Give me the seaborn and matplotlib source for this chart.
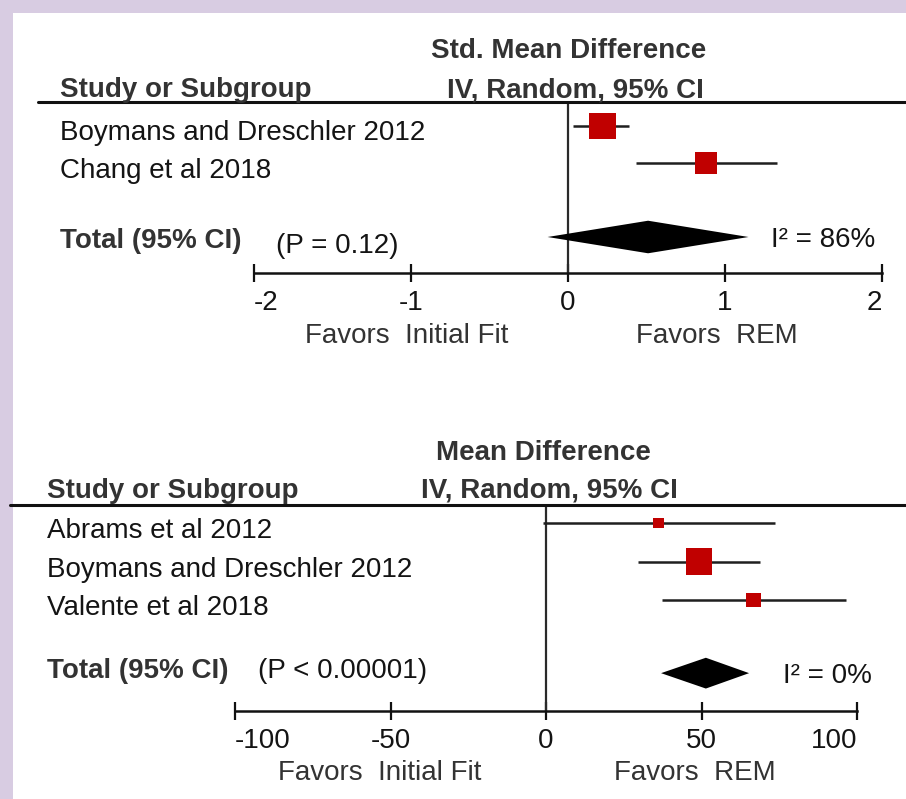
import numpy as np
import pandas as pd
import matplotlib
matplotlib.use("Agg")
import matplotlib.pyplot as plt
from matplotlib.lines import Line2D
from matplotlib.patches import Rectangle
import seaborn as sns

# ---------------- data ----------------
top_studies = ["Boymans and Dreschler 2012", "Chang et al 2018"]
top_est = [0.22, 0.88]
top_lo = [0.03, 0.43]
top_hi = [0.39, 1.33]
top_weight = [60.0, 40.0]
top_total = [0.51, -0.13, 1.15]          # estimate, lower, upper
top_p = "(P = 0.12)"
top_i2 = "I² = 86%"
top_ticks = [-2, -1, 0, 1, 2]
top_ticklabels = ["-2", "-1", "0", "1", "2"]
top_title1 = "Std. Mean Difference"

bot_studies = ["Abrams et al 2012", "Boymans and Dreschler 2012", "Valente et al 2018"]
bot_est = [36.3, 49.2, 66.6]
bot_lo = [-1.0, 29.6, 37.3]
bot_hi = [73.6, 68.8, 96.5]
bot_weight = [11.8, 66.2, 22.0]
bot_total = [51.4, 37.0, 65.3]
bot_p = "(P < 0.00001)"
bot_i2 = "I² = 0%"
bot_ticks = [-100, -50, 0, 50, 100]
bot_ticklabels = ["-100", "-50", "0", "50", "100"]
bot_title1 = "Mean Difference"

title2 = "IV, Random, 95% CI"
col_head = "Study or Subgroup"
total_lbl = "Total (95% CI)"
fav_left = "Favors  Initial Fit"
fav_right = "Favors  REM"

# ---------------- style ----------------
sns.set_style("white")
plt.rcParams["font.family"] = ["Liberation Sans", "DejaVu Sans"]

W, H = 906, 799
fig = plt.figure(figsize=(W / 100, H / 100), dpi=100)
fig.patch.set_facecolor("#d8cce2")
fig.add_artist(Rectangle((13 / W, 0), 1 - 13 / W, 1 - 13 / H,
                         transform=fig.transFigure, facecolor="white",
                         edgecolor="none", zorder=0))

FS = 20
TXT = "#141414"
HEAD = "#333333"
RED = "#c00000"


def fx(x):
    return x / W


def fy(y):
    return 1 - y / H


def ftext(x, y, s, **kw):
    kw.setdefault("fontsize", FS)
    kw.setdefault("color", TXT)
    kw.setdefault("va", "baseline")
    fig.text(fx(x), fy(y), s, **kw)


def panel(ax_px, row0, rowstep, studies, est, lo, hi, weight, total,
          total_y, dh, sq_k, xlim, ticks, ticklabels, pad):
    left, right, top, bottom = ax_px
    ax = fig.add_axes([fx(left), fy(bottom), (right - left) / W, (bottom - top) / H])
    ax.set_facecolor("none")
    ypos = np.arange(len(studies), dtype=float)
    df = pd.DataFrame({"study": studies, "est": est, "lo": lo, "hi": hi,
                       "w": weight, "y": ypos})
    ax.set_xlim(*xlim)
    ax.set_ylim((bottom - row0) / rowstep, (top - row0) / rowstep)
    # zero line
    ax.axvline(0, color="#2a2a2a", lw=1.6, zorder=1)
    # CI lines
    ax.hlines(df["y"], df["lo"], df["hi"], color="#1f1f1f", lw=1.8, zorder=2,
              clip_on=False)
    # squares
    sns.scatterplot(data=df, x="est", y="y", s=df["w"].to_numpy() * sq_k,
                    marker="s", color=RED, linewidth=0, ax=ax, zorder=3,
                    clip_on=False, legend=False)
    # diamond
    e, l, h = total
    ax.fill([l, e, h, e], [total_y, total_y - dh, total_y, total_y + dh],
            color="black", lw=0, zorder=3, clip_on=False)
    # axis
    for sp in ["top", "left", "right"]:
        ax.spines[sp].set_visible(False)
    ax.spines["bottom"].set_linewidth(1.8)
    ax.spines["bottom"].set_color("#111111")
    ax.set_yticks([])
    ax.set_xticks(ticks)
    ax.set_xticklabels(ticklabels, fontsize=FS, color=TXT)
    ax.tick_params(axis="x", bottom=True, direction="inout", length=13,
                   width=1.6, color="#111111", pad=pad)
    labs = ax.get_xticklabels()
    labs[0].set_ha("left")
    labs[-1].set_ha("right")
    ax.set_xlabel("")
    ax.set_ylabel("")
    return ax


# ---------------- top panel ----------------
panel((254, 882, 102, 273), 126, 37, top_studies, top_est, top_lo, top_hi,
      top_weight, top_total, 3.0, 0.44, 6.27, (-2, 2), top_ticks, top_ticklabels,
      5.8)

fig.add_artist(Line2D([fx(38), 1], [fy(102), fy(102)], lw=2.2, color="#111111"))
ftext(569, 58, top_title1, ha="center", fontweight="bold", color=HEAD)
ftext(575, 97, title2, ha="center", fontweight="bold", color=HEAD)
ftext(60, 97, col_head, ha="left", fontweight="bold", color=HEAD)
for s, yb in zip(top_studies, [140, 178]):
    ftext(60, yb, s, ha="left")
ftext(60, 248, total_lbl, ha="left", fontweight="bold", color=HEAD)
ftext(276, 253, top_p, ha="left")
ftext(771, 247, top_i2, ha="left")
ftext(407, 343, fav_left, ha="center", color=HEAD)
ftext(717, 343, fav_right, ha="center", color=HEAD)

# ---------------- bottom panel ----------------
panel((235, 857, 505, 711), 523, 38.5, bot_studies, bot_est, bot_lo, bot_hi,
      bot_weight, bot_total, 3.9, 0.4, 5.3, (-100, 100), bot_ticks, bot_ticklabels,
      6.0)

fig.add_artist(Line2D([fx(10), 1], [fy(505), fy(505)], lw=2.2, color="#111111"))
ftext(543, 460, bot_title1, ha="center", fontweight="bold", color=HEAD)
ftext(549, 497, title2, ha="center", fontweight="bold", color=HEAD)
ftext(47, 498, col_head, ha="left", fontweight="bold", color=HEAD)
for s, yb in zip(bot_studies, [538, 577, 615]):
    ftext(47, yb, s, ha="left")
ftext(47, 678, total_lbl, ha="left", fontweight="bold", color=HEAD)
ftext(258, 678, bot_p, ha="left")
ftext(783, 683, bot_i2, ha="left")
ftext(380, 780, fav_left, ha="center", color=HEAD)
ftext(695, 780, fav_right, ha="center", color=HEAD)

fig.savefig("out.png", dpi=100, facecolor=fig.get_facecolor())
